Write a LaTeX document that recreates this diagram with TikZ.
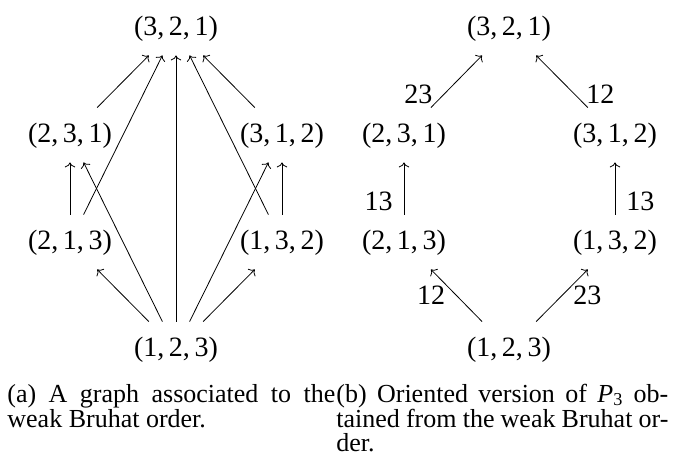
\documentclass[tikz,border=0pt]{standalone}
\usepackage{fontspec}
\setmainfont{Liberation Serif}
\usetikzlibrary{positioning,arrows.meta}

\begin{document}
\begin{tikzpicture}[x=0.5pt,y=-0.5pt]

% ---- Styles ----
\tikzset{
  perm/.style={inner sep=6.5pt, text height=10.5pt, text depth=3.5pt,
               font=\fontsize{14}{16}\selectfont},
  lab/.style={inner sep=5.5pt, font=\fontsize{14}{16}\selectfont},
  capbox/.style={anchor=base west, inner sep=0pt, align=justify,
                 font=\fontsize{13}{11.75}\selectfont},
}

\useasboundingbox (0,0) rectangle (677,462);

% --- Left: graph of the weak Bruhat order ---
\node[perm] (a321) at (176,28)  {(3,\,2,\,1)};
\node[perm] (a231) at (70,135)  {(2,\,3,\,1)};
\node[perm] (a312) at (282,135) {(3,\,1,\,2)};
\node[perm] (a213) at (70,242)  {(2,\,1,\,3)};
\node[perm] (a132) at (282,242) {(1,\,3,\,2)};
\node[perm] (a123) at (176,349) {(1,\,2,\,3)};

\draw[->] (a231) -- (a321);
\draw[->] (a213) -- (a321);
\draw[->] (a123) -- (a321);
\draw[->] (a132) -- (a321);
\draw[->] (a312) -- (a321);
\draw[->] (a213) -- (a231);
\draw[->] (a123) -- (a231);
\draw[->] (a123) -- (a213);
\draw[->] (a123) -- (a132);
\draw[->] (a123) -- (a312);
\draw[->] (a132) -- (a312);

% --- Right: oriented version of P_3 ---
\node[perm] (b321) at (509,28)  {(3,\,2,\,1)};
\node[perm] (b231) at (404,135) {(2,\,3,\,1)};
\node[perm] (b312) at (615,135) {(3,\,1,\,2)};
\node[perm] (b213) at (404,242) {(2,\,1,\,3)};
\node[perm] (b132) at (615,242) {(1,\,3,\,2)};
\node[perm] (b123) at (509,349) {(1,\,2,\,3)};

\draw[->] (b231) -- node[lab,pos=.25,left]  {23} (b321);
\draw[->] (b312) -- node[lab,pos=.25,right] {12} (b321);
\draw[->] (b213) -- node[lab,pos=.25,left]  {13} (b231);
\draw[->] (b132) -- node[lab,pos=.25,right] {13} (b312);
\draw[->] (b123) -- node[lab,left]  {12} (b213);
\draw[->] (b123) -- node[lab,right] {23} (b132);

% --- Captions ---
\node[capbox, text width=164pt] (capa) at (7,402)
  {(a) A graph associated to the\linebreak weak Bruhat order.};
\node[capbox, text width=166pt] (capb) at (336,402)
  {(b) Oriented version of \textit{P}\textsubscript{3} ob-\linebreak
   tained from the weak Bruhat or-\linebreak der.};

\end{tikzpicture}
\end{document}
